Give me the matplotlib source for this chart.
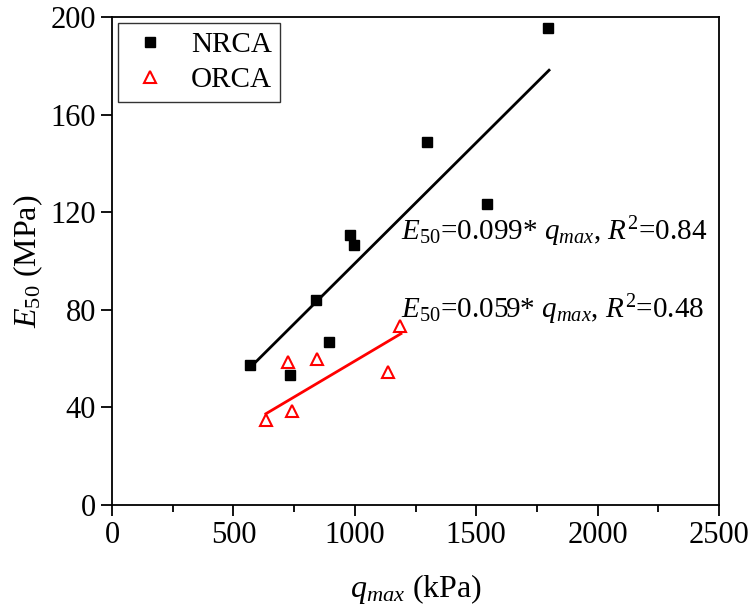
import numpy as np
import matplotlib
matplotlib.use("Agg")
import matplotlib.pyplot as plt
from matplotlib.ticker import MultipleLocator

plt.rcParams["font.family"] = ["Liberation Serif", "DejaVu Serif"]
plt.rcParams["mathtext.fontset"] = "custom"
plt.rcParams["mathtext.rm"] = "Liberation Serif"
plt.rcParams["mathtext.it"] = "Liberation Serif:italic"

# NRCA samples (q_max in kPa, E50 in MPa)
nrca_q = [568, 733, 840, 894, 980, 996, 1297, 1545, 1796]
nrca_e = [57.4, 53.3, 84.0, 66.8, 110.7, 106.6, 148.8, 123.4, 195.5]

# ORCA samples
orca_q = [634, 725, 742, 844, 1137, 1186]
orca_e = [34.8, 58.6, 38.5, 59.8, 54.5, 73.4]

# fitted slopes (through origin)
nrca_k, nrca_r2 = 0.099, 0.84
orca_k, orca_r2 = 0.059, 0.48

fig = plt.figure(figsize=(7.5, 6.09), dpi=100)
ax = fig.add_axes([0.1493, 0.1708, 0.8094, 0.8012])

ax.plot(nrca_q, nrca_e, "s", color="black", markersize=7, label="NRCA", zorder=3)
ax.plot(orca_q, orca_e, "^", markerfacecolor="none", markeredgecolor="red",
        markeredgewidth=1.5, markersize=9, label="ORCA", zorder=3)

# fit lines drawn over the range of each data set
xs = np.array([min(nrca_q), 1800])
ax.plot(xs, nrca_k * xs, color="black", lw=2)
xs = np.array([min(orca_q), 1190])
ax.plot(xs, orca_k * xs, color="red", lw=2)

fmt = r"$\mathit{E}_{\mathit{50}}$=%.3f* $\mathit{q}_{\mathit{max}}$, $\mathit{R}^{2}$=%.2f"
ax.text(1190, 112, fmt % (nrca_k, nrca_r2), fontsize=21, va="center", ha="left")
ax.text(1190, 80, fmt % (orca_k, orca_r2), fontsize=21, va="center", ha="left")

ax.set_xlim(0, 2500)
ax.set_ylim(0, 200)
ax.xaxis.set_major_locator(MultipleLocator(500))
ax.xaxis.set_minor_locator(MultipleLocator(250))
ax.yaxis.set_major_locator(MultipleLocator(40))
ax.tick_params(axis="both", which="both", direction="out", top=False, right=False,
               labelsize=22, width=1.3)
ax.tick_params(which="major", length=8)
ax.tick_params(which="minor", length=5)
for s in ax.spines.values():
    s.set_linewidth(1.3)

ax.set_xlabel(r"$\mathit{q}_{\mathit{max}}$ (kPa)", fontsize=23, labelpad=16)
ax.set_ylabel(r"$\mathit{E}_{\mathit{50}}$ (MPa)", fontsize=23, labelpad=4)

leg = ax.legend(loc="upper left", fontsize=21, frameon=True, fancybox=False,
                edgecolor="black", borderpad=0.3, handletextpad=0.6,
                borderaxespad=0.2, labelspacing=0.3, handlelength=1.6)
leg.get_frame().set_linewidth(1.0)

fig.savefig("out.png", dpi=100)
